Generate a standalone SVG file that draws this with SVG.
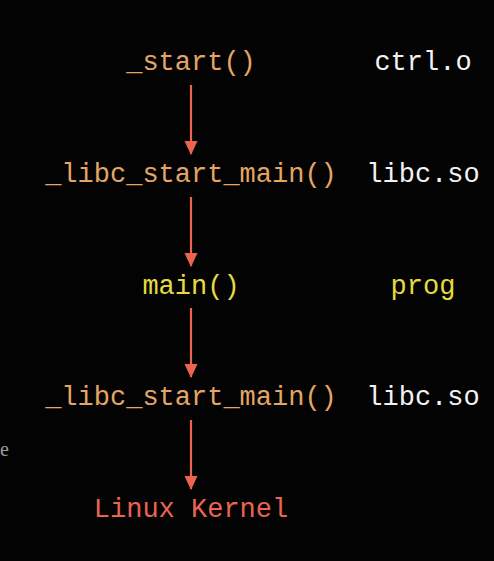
<svg xmlns="http://www.w3.org/2000/svg" width="494" height="561" viewBox="0 0 494 561">
<defs>
<style>
text{font-family:"Liberation Mono","Courier New",monospace;font-size:27px;text-anchor:middle}
.fn{fill:#e5a565}
.lib{fill:#f2f2f2}
.usr{fill:#e6dc3c}
.krn{fill:#ea6450}
.stray{fill:#9a9a9a;font-family:"Liberation Serif",serif;font-size:20px;text-anchor:start}
.edge{stroke:#ea6450;stroke-width:2.2;fill:none}
</style>
<marker id="ah" viewBox="0 0 14 14" refX="13" refY="7" markerWidth="14" markerHeight="14" markerUnits="userSpaceOnUse" orient="auto">
<path d="M0,0.5 L14,7 L0,13.5 Z" fill="#ea6450"/>
</marker>
</defs>
<rect width="494" height="561" fill="#030303"/>
<g id="connectors">
<line class="edge" x1="191" y1="85" x2="191" y2="154" marker-end="url(#ah)"/>
<line class="edge" x1="191" y1="197" x2="191" y2="266" marker-end="url(#ah)"/>
<line class="edge" x1="191" y1="308" x2="191" y2="377" marker-end="url(#ah)"/>
<line class="edge" x1="191" y1="420" x2="191" y2="489" marker-end="url(#ah)"/>
</g>
<g id="start"><text class="fn" x="191" y="70">_start()</text></g>
<g id="ctrl"><text class="lib" x="423" y="70">ctrl.o</text></g>
<g id="libc1"><text class="fn" x="191" y="182">_libc_start_main()</text></g>
<g id="libcso1"><text class="lib" x="423" y="182">libc.so</text></g>
<g id="main"><text class="usr" x="191" y="294">main()</text></g>
<g id="prog"><text class="usr" x="423" y="294">prog</text></g>
<g id="libc2"><text class="fn" x="191" y="405">_libc_start_main()</text></g>
<g id="libcso2"><text class="lib" x="423" y="405">libc.so</text></g>
<g id="kernel"><text class="krn" x="191" y="517">Linux Kernel</text></g>
<g id="stray"><text class="stray" x="0" y="456">e</text></g>
</svg>
